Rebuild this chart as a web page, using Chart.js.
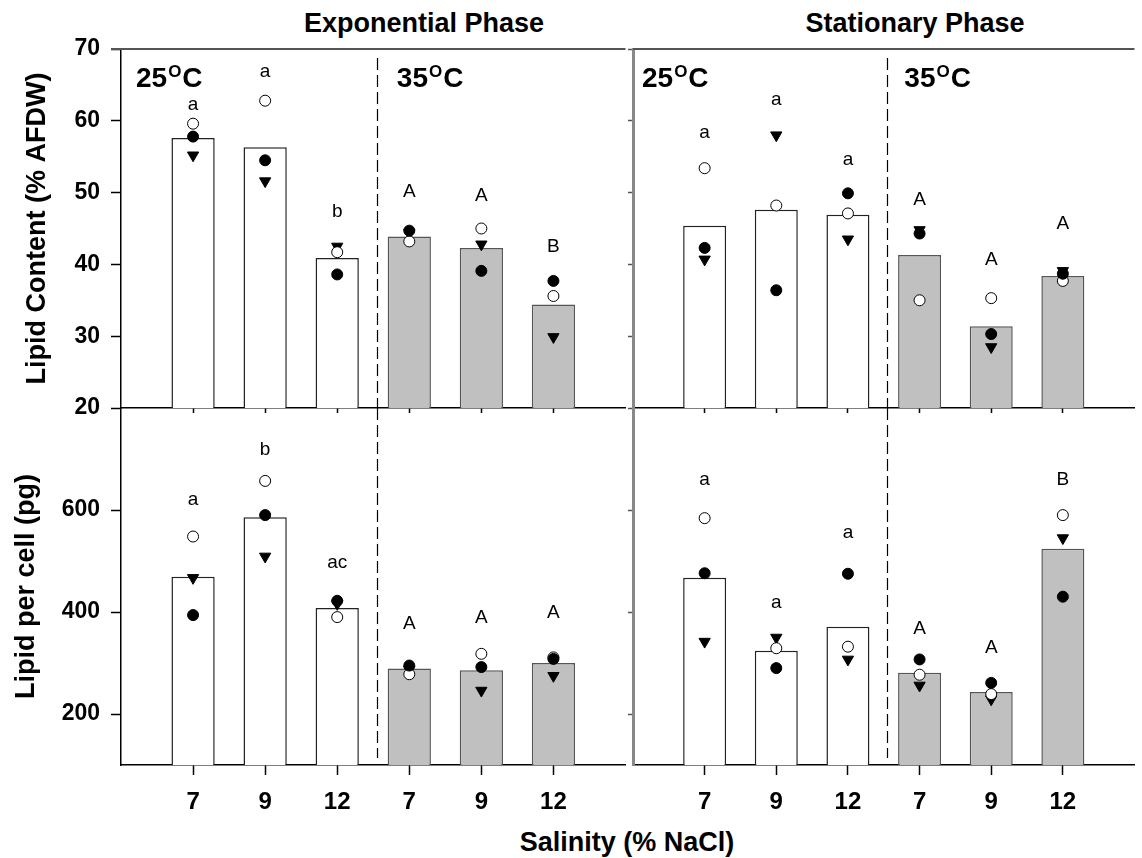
<!DOCTYPE html>
<html>
<head>
<meta charset="utf-8">
<title>Lipid content and lipid per cell</title>
<script src="https://cdn.jsdelivr.net/npm/chart.js@4.4.1/dist/chart.umd.min.js"></script>
<style>
  body { margin: 0; background: #fff; }
  #wrap { position: relative; width: 1142px; height: 858px; overflow: hidden; font-family: "Liberation Sans", Arial, sans-serif; }
  canvas { position: absolute; }
  .lbl { position: absolute; font-weight: bold; font-size: 27px; line-height: 27px; white-space: nowrap; transform: translateX(-50%); color: #000; }
</style>
</head>
<body>
<div id="wrap">
  <div class="lbl" style="left:424px; top:10px">Exponential Phase</div>
  <div class="lbl" style="left:915px; top:10px">Stationary Phase</div>
  <div class="lbl" style="left:627px; top:829px">Salinity (% NaCl)</div>
  <canvas id="tl" width="633" height="420" style="left:0; top:0"></canvas>
  <canvas id="tr" width="542" height="420" style="left:600px; top:0"></canvas>
  <canvas id="bl" width="633" height="458" style="left:0; top:400px"></canvas>
  <canvas id="br" width="542" height="458" style="left:600px; top:400px"></canvas>
</div>
<script>
// salinity groups: 3 at 25 C then 3 at 35 C
const salinityLabels = ['7', '9', '12', '7', '9', '12'];
const salinityPos = [1, 2, 3, 4, 5, 6];

// Lipid content (% AFDW) - exponential phase
const meanExpLC = [57.6, 56.3, 40.9, 43.9, 42.3, 34.4];
const openExpLC = [59.6, 62.8, 41.7, 43.2, 45.0, 35.6];
const filledExpLC = [57.8, 54.5, 38.6, 44.7, 39.1, 37.7];
const triExpLC = [55.2, 51.6, 42.5, 44.4, 42.8, 29.9];
const lettersExpLC = ['a', 'a', 'b', 'A', 'A', 'B'];
const letterAtExpLC = [62.3, 66.8, 47.3, 50.1, 49.5, 42.4];

// Lipid content (% AFDW) - stationary phase
const meanStaLC = [45.4, 47.6, 46.9, 41.3, 31.4, 38.4];
const openStaLC = [53.4, 48.2, 47.1, 35.0, 35.3, 37.7];
const filledStaLC = [42.3, 36.4, 49.9, 44.3, 30.3, 38.7];
const triStaLC = [40.7, 58.0, 43.5, 44.8, 28.5, 39.1];
const lettersStaLC = ['a', 'a', 'a', 'A', 'A', 'A'];
const letterAtStaLC = [58.3, 62.9, 54.6, 49.0, 40.6, 45.7];

// Lipid per cell (pg) - exponential phase
const meanExpLP = [469, 586, 408, 289, 286, 300];
const openExpLP = [548, 657, 390, 278, 318, 311];
const filledExpLP = [394, 590, 422, 295, 292, 308];
const triExpLP = [467, 509, 416, 287, 246, 275];
const lettersExpLP = ['a', 'b', 'ac', 'A', 'A', 'A'];
const letterAtExpLP = [620, 718, 496, 377, 388, 398];

// Lipid per cell (pg) - stationary phase
const meanStaLP = [467, 324, 371, 281, 243, 524];
const openStaLP = [584, 329, 332, 277, 239, 590];
const filledStaLP = [476, 290, 475, 307, 261, 430];
const triStaLP = [342, 350, 307, 256, 229, 545];
const lettersStaLP = ['a', 'a', 'a', 'A', 'A', 'B'];
const letterAtStaLP = [659, 419, 556, 368, 329, 659];

const barFill = ['#ffffff', '#ffffff', '#ffffff', '#c0c0c0', '#c0c0c0', '#c0c0c0'];
const barEdge = ['#222', '#222', '#222', '#555', '#555', '#555'];
const dividerAt = 3.55;
const FONT = '"Liberation Sans", Arial, sans-serif';

Chart.defaults.font.family = FONT;
Chart.defaults.color = '#000';

function toPoints(vals) {
    return vals.map((v, i) => ({ x: salinityPos[i], y: v }));
}

function drawTemp(ctx, text, left, mid) {
    ctx.textAlign = 'left';
    ctx.textBaseline = 'alphabetic';
    const base = mid + 10;
    ctx.font = 'bold 28px ' + FONT;
    ctx.fillText(text, left, base);
    const w = ctx.measureText(text).width;
    ctx.font = 'bold 17px ' + FONT;
    ctx.fillText('O', left + w + 1, base - 10);
    const w2 = ctx.measureText('O').width;
    ctx.font = 'bold 28px ' + FONT;
    ctx.fillText('C', left + w + w2 + 2, base);
}

// dashed divider, top frame line, letters and temperature labels
const panelDecor = {
    id: 'panelDecor',
    beforeDatasetsDraw(chart, args, opts) {
        const { ctx, chartArea: a, scales: { x } } = chart;
        const dx = Math.round(x.getPixelForValue(dividerAt)) + 0.5;
        ctx.save();
        ctx.strokeStyle = '#000';
        ctx.lineWidth = 1.2;
        ctx.setLineDash([12, 5]);
        ctx.beginPath();
        ctx.moveTo(dx, a.top + opts.dashTop);
        ctx.lineTo(dx, a.bottom - opts.dashBottom);
        ctx.stroke();
        ctx.restore();
    },
    afterDatasetsDraw(chart, args, opts) {
        const { ctx, chartArea: a, scales: { x, y } } = chart;
        ctx.save();
        ctx.fillStyle = '#000';
        ctx.font = '19px ' + FONT;
        ctx.textAlign = 'center';
        ctx.textBaseline = 'middle';
        opts.letters.forEach((t, i) => {
            ctx.fillText(t, x.getPixelForValue(salinityPos[i]), y.getPixelForValue(opts.letterAt[i]));
        });
        if (opts.temps) {
            const mid = a.top + 28;
            drawTemp(ctx, '25', a.left + opts.temps[0], mid);
            drawTemp(ctx, '35', x.getPixelForValue(dividerAt) + opts.temps[1], mid);
        }
        if (opts.topLine) {
            ctx.strokeStyle = '#555';
            ctx.lineWidth = 2;
            ctx.beginPath();
            ctx.moveTo(a.left - (opts.leftAxis ? 10 : 0), a.top);
            ctx.lineTo(a.right, a.top);
            ctx.stroke();
        }
        ctx.restore();
    }
};

function panel(id, p) {
    const isLeft = p.yTitle !== undefined;
    const isBottom = p.bottom;
    return new Chart(document.getElementById(id), {
        data: {
            datasets: [
                { type: 'scatter', data: toPoints(p.filled), pointStyle: 'circle', pointRadius: 5.5,
                  backgroundColor: '#000', borderColor: '#000', borderWidth: 1, order: 1 },
                { type: 'scatter', data: toPoints(p.open), pointStyle: 'circle', pointRadius: 5.5,
                  backgroundColor: '#fff', borderColor: '#000', borderWidth: 1, order: 2 },
                { type: 'scatter', data: toPoints(p.tri), pointStyle: 'triangle', rotation: 180, pointRadius: 6.5,
                  backgroundColor: '#000', borderColor: '#000', borderWidth: 1, order: 3 },
                { type: 'bar', data: toPoints(p.mean), backgroundColor: barFill, borderColor: barEdge,
                  borderWidth: 1.5, barPercentage: 0.6, categoryPercentage: 1, order: 4 }
            ]
        },
        options: {
            responsive: false,
            animation: false,
            events: [],
            layout: { padding: { top: isBottom ? 8 : 49, left: 0, right: 0, bottom: 0 } },
            plugins: {
                legend: { display: false },
                tooltip: { enabled: false },
                panelDecor: {
                    letters: p.letters, letterAt: p.letterAt, temps: p.temps,
                    topLine: !isBottom, leftAxis: isLeft,
                    dashTop: isBottom ? 0 : 9, dashBottom: isBottom ? 7 : 0
                }
            },
            scales: {
                x: {
                    type: 'linear', min: 0, max: 7, offset: false,
                    afterBuildTicks: s => { s.ticks = salinityPos.map(v => ({ value: v })); },
                    afterFit: s => {
                        s.height = isBottom ? 93 : 12;
                        s.paddingLeft = 0;
                        s.paddingRight = 0;
                    },
                    ticks: {
                        display: isBottom, padding: 13,
                        font: { size: 24, weight: 'bold' },
                        callback: v => salinityLabels[v - 1]
                    },
                    grid: { drawOnChartArea: false, offset: false, tickLength: isBottom ? 10 : 5, color: '#000', tickWidth: 1.5 },
                    border: { color: '#000', width: 1.5 }
                },
                y: {
                    type: 'linear', min: p.yMin, max: p.yMax,
                    afterBuildTicks: s => { s.ticks = p.yTicks.map(v => ({ value: v })); },
                    afterFit: s => {
                        // keep the plot areas lined up across the four panels
                        s.width = isLeft ? 121 : 33;
                        s.paddingTop = 0;
                        s.paddingBottom = 0;
                    },
                    ticks: { display: isLeft, padding: 11, font: { size: 23, weight: 'bold' } },
                    grid: { drawOnChartArea: false, tickLength: isLeft ? 10 : 5, color: isLeft ? '#000' : '#555', tickWidth: 1.5 },
                    border: { color: isLeft ? '#000' : '#888', width: isLeft ? 1.5 : 3 },
                    title: {
                        display: isLeft, text: p.yTitle,
                        font: { size: 27, weight: 'bold' },
                        padding: { top: p.titlePad || 0, bottom: 0 }
                    }
                }
            }
        },
        plugins: [panelDecor]
    });
}

const lcTicks = [20, 30, 40, 50, 60, 70];
const lpTicks = [200, 400, 600];

panel('tl', { mean: meanExpLC, open: openExpLC, filled: filledExpLC, tri: triExpLC,
    letters: lettersExpLC, letterAt: letterAtExpLC, yMin: 20, yMax: 70, yTicks: lcTicks,
    yTitle: 'Lipid Content (% AFDW)', titlePad: 21, temps: [15, 20] });
panel('tr', { mean: meanStaLC, open: openStaLC, filled: filledStaLC, tri: triStaLC,
    letters: lettersStaLC, letterAt: letterAtStaLC, yMin: 20, yMax: 70, yTicks: lcTicks,
    temps: [9, 17] });
panel('bl', { mean: meanExpLP, open: openExpLP, filled: filledExpLP, tri: triExpLP,
    letters: lettersExpLP, letterAt: letterAtExpLP, yMin: 100, yMax: 800, yTicks: lpTicks,
    yTitle: 'Lipid per cell (pg)', titlePad: 10, bottom: true });
panel('br', { mean: meanStaLP, open: openStaLP, filled: filledStaLP, tri: triStaLP,
    letters: lettersStaLP, letterAt: letterAtStaLP, yMin: 100, yMax: 800, yTicks: lpTicks,
    bottom: true });
</script>
</body>
</html>
